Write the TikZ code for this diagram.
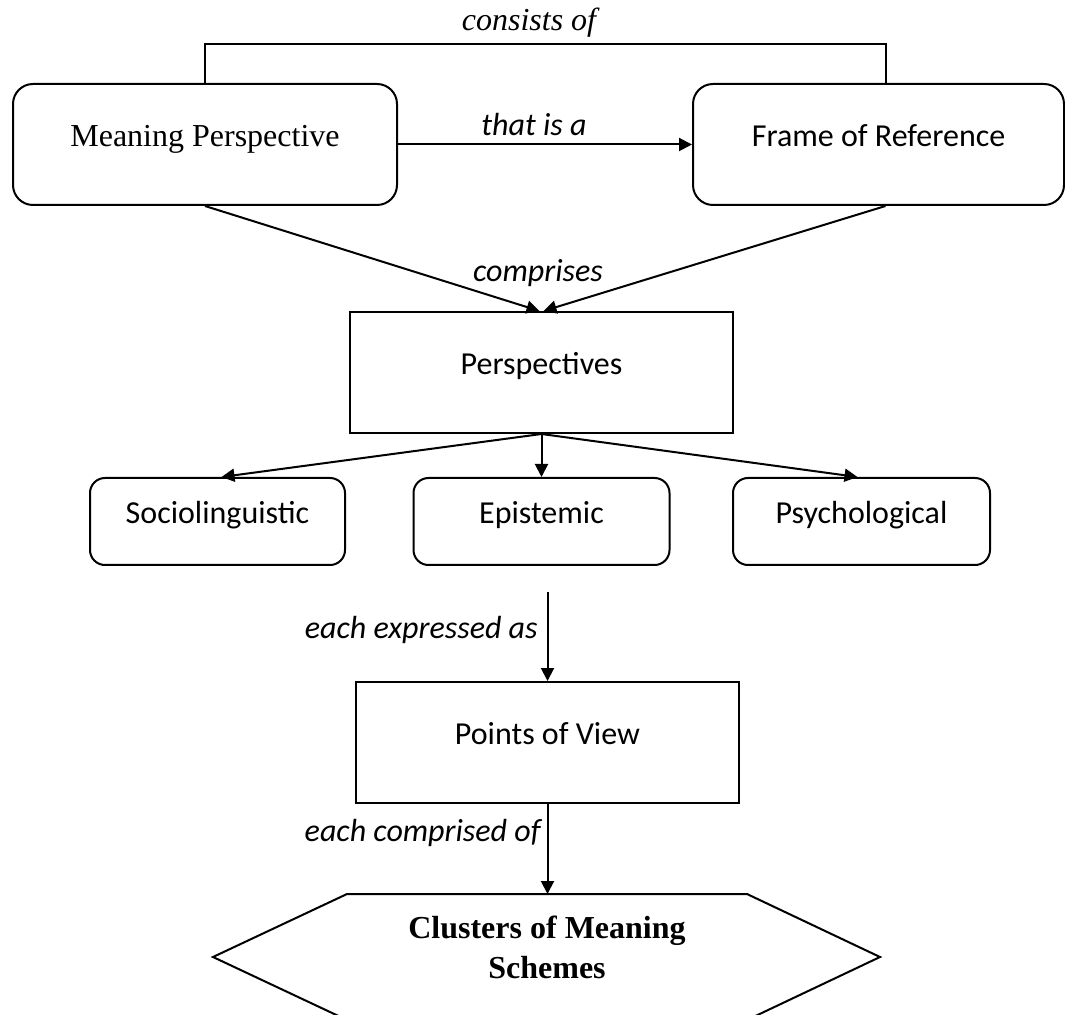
\documentclass[tikz,border=0pt]{standalone}
\usepackage{fontspec}
\setmainfont{Carlito}
\newfontfamily\serifface{Liberation Serif}
\usetikzlibrary{arrows.meta}

\begin{document}
\begin{tikzpicture}[x=0.5pt,y=-0.5pt,
  every node/.style={font=\fontsize{16}{19}\selectfont},
  box/.style={draw, line width=1pt, inner sep=0pt, align=center,
              text height=10pt, text depth=8.4pt},
  roundbox/.style={box, rounded corners=10pt},
  smallbox/.style={box, rounded corners=7.5pt,
                   minimum height=43.5pt},
  link/.style={line width=1pt, -{Triangle[length=6.5pt,width=6.5pt]}},
  plain/.style={line width=1pt},
  tag/.style={font=\fontsize{16}{19}\selectfont\itshape},
  sidetag/.style={tag, anchor=east, inner sep=0pt},
]
\useasboundingbox (0,0) rectangle (1065,1015);

% top row
\node[roundbox, minimum width=192pt, minimum height=60.5pt] (mp) at (205,144.5)
  {\serifface Meaning Perspective};
\node[roundbox, minimum width=185.5pt, minimum height=60.5pt] (fr) at (878.5,144.5)
  {Frame of Reference};

% bracket joining the two top boxes
\coordinate (bar) at (0,44);
\draw[plain] (mp.north) -- (mp.north |- bar)
  -- ([xshift=3.5pt]fr.north |- bar) -- ([xshift=3.5pt]fr.north);
\node[tag] (consists) at (529,23) {\serifface\itshape consists of};

\draw[link] (mp.east) -- (fr.west);
\node[tag] (thatis) at (534,125) {that is a};

% perspectives
\node[box, minimum width=191.5pt, minimum height=60.5pt] (persp) at (541.5,372.5)
  {Perspectives};
\draw[link] (mp.south) -- ([xshift=-1pt]persp.north);
\draw[link] ([xshift=3.5pt]fr.south) -- ([xshift=1pt]persp.north);
\node[tag] (comprises) at (538,273) {comprises};

% three kinds of perspective
\node[smallbox, minimum width=127.5pt] (socio) at (217.5,521.5) {Sociolinguistic};
\node[smallbox, minimum width=128pt] (epist) at (541.5,521.5) {Epistemic};
\node[smallbox, minimum width=128.5pt] (psych) at (861.5,521.5) {Psychological};
\draw[link] (persp.south) -- ([xshift=2pt]socio.north);
\draw[link] (persp.south) -- (epist.north);
\draw[link] (persp.south) -- ([xshift=-2pt]psych.north);

% points of view
\node[box, minimum width=191.5pt, minimum height=60.5pt] (pov) at (547.5,742.5)
  {Points of View};
\coordinate (expr) at (547.5,592);
\draw[link] (expr) -- (pov.north);
\node[sidetag] (expressed) at (538,630) {each expressed as};

% clusters of meaning schemes
\coordinate (hexN) at (547.5,894);
\draw[plain] (213,957) -- (347,894) -- (747,894) -- (880,957)
  -- (747,1020) -- (347,1020) -- cycle;
\node[align=center, font=\serifface\bfseries\fontsize{16}{20}\selectfont]
  (clusters) at (547,947) {Clusters of Meaning\\Schemes};
\draw[link] (pov.south) -- (hexN);
\node[sidetag] (comprised) at (541,833) {each comprised of};

\end{tikzpicture}
\end{document}
